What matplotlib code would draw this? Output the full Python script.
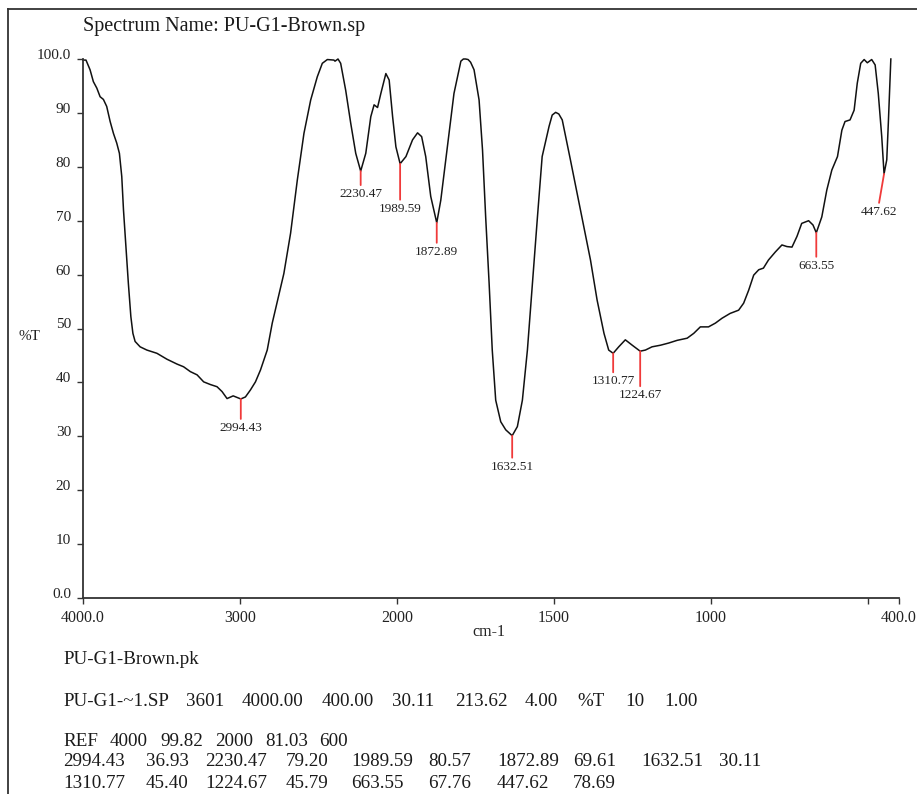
import numpy as np
import matplotlib
matplotlib.use('Agg')
import matplotlib.pyplot as plt
from matplotlib.lines import Line2D

# ---------------- data ----------------
wavenumber = [4000, 3981, 3955, 3934, 3912, 3891, 3870, 3849, 3827, 3806, 3785, 3768,
              3753, 3742, 3725, 3711, 3695, 3682, 3668, 3636, 3593, 3529, 3465, 3401,
              3359, 3316, 3273, 3231, 3188, 3146, 3114, 3082, 3043, 3018, 2994.43, 2965,
              2933, 2901, 2869, 2826, 2794, 2720, 2677, 2634, 2592, 2549, 2507, 2475,
              2443, 2401, 2394, 2375, 2358, 2326, 2294, 2262, 2230.47, 2198, 2166, 2145,
              2123, 2102, 2070, 2049, 2027, 2006, 1989.59, 1971, 1950, 1934, 1921, 1908,
              1892, 1872.89, 1860, 1839, 1818, 1796, 1788, 1781, 1773, 1765, 1754, 1738,
              1727, 1717, 1706, 1696, 1685, 1669, 1653, 1632.51, 1616, 1600, 1584, 1568,
              1552, 1537, 1515, 1505, 1494, 1484, 1473, 1447, 1415, 1383, 1362, 1340,
              1325, 1310.77, 1293, 1272, 1250, 1224.67, 1208, 1187, 1160, 1134, 1107, 1075,
              1054, 1033, 1007, 985, 964, 938, 911, 895, 879, 863, 847, 832,
              816, 794, 773, 757, 741, 725, 710, 688, 674, 663.55, 646, 630,
              614, 596, 582, 572, 556, 543, 533, 522, 511, 501, 487, 476,
              466, 455, 447.62, 439, 434, 426]
transmittance = [99.8, 99.8, 98.0, 95.8, 94.6, 93.0, 92.5, 91.2, 88.4, 86.2, 84.4, 82.5,
                 78.2, 72.0, 64.6, 58.4, 52.2, 49.1, 47.6, 46.6, 46.0, 45.4, 44.3, 43.4,
                 42.9, 42.0, 41.4, 40.1, 39.6, 39.2, 38.3, 37.0, 37.5, 37.2, 36.93, 37.3,
                 38.6, 40.1, 42.3, 46.0, 51.0, 60.2, 67.7, 77.6, 86.2, 92.4, 96.7, 99.2,
                 99.9, 99.8, 99.6, 100.0, 99.2, 94.2, 88.1, 82.5, 79.20, 82.5, 89.3, 91.5,
                 91.0, 93.6, 97.3, 96.1, 89.3, 83.7, 80.57, 81.9, 85.0, 86.3, 85.6, 81.9,
                 74.5, 69.61, 73.8, 83.7, 93.6, 99.6, 100.0, 100.0, 99.9, 99.4, 98.0, 92.4,
                 83.1, 70.7, 58.4, 46.0, 36.7, 32.7, 31.2, 30.11, 31.8, 36.7, 46.0, 58.4,
                 70.7, 81.9, 87.5, 89.6, 90.1, 89.8, 88.7, 81.3, 72.0, 62.7, 55.3, 49.1,
                 46.0, 45.40, 46.6, 47.9, 46.9, 45.79, 46.0, 46.6, 46.9, 47.3, 47.8, 48.2,
                 49.1, 50.3, 50.3, 51.0, 51.9, 52.8, 53.4, 54.7, 57.1, 59.9, 60.9, 61.2,
                 62.7, 64.2, 65.5, 65.2, 65.1, 67.1, 69.5, 70.0, 69.2, 67.76, 70.7, 75.7,
                 79.4, 81.9, 86.8, 88.4, 88.7, 90.5, 95.5, 99.2, 99.9, 99.3, 99.9, 98.9,
                 93.6, 85.6, 78.69, 81.3, 88.1, 100.0]

peak_wn = [2994.43, 2230.47, 1989.59, 1872.89, 1632.51, 1310.77, 1224.67, 663.55, 447.62]
peak_t = [36.93, 79.20, 80.57, 69.61, 30.11, 45.40, 45.79, 67.76, 78.69]

x_ticks = [4000, 3000, 2000, 1500, 1000, 500, 400]
x_tick_labels = ['4000.0', '3000', '2000', '1500', '1000', '', '400.0']
y_ticks = [0, 10, 20, 30, 40, 50, 60, 70, 80, 90, 100]
y_tick_labels = ['0.0', '10', '20', '30', '40', '50', '60', '70', '80', '90', '100.0']

title_text = 'Spectrum Name: PU-G1-Brown.sp'
x_label = 'cm-1'
y_label = '%T'
file_name = 'PU-G1-Brown.pk'
header_tokens = ['PU-G1-~1.SP', '3601', '4000.00', '400.00', '30.11', '213.62',
                 '4.00', '%T', '10', '1.00']
ref_tokens = ['REF', '4000', '99.82', '2000', '81.03', '600']

# ---------------- layout / style ----------------
W, H = 917, 794
SERIF = ['Liberation Serif', 'DejaVu Serif']
RED = '#f03a3a'
label_drop_px = [20, 14, 36, 20, 22, 19, 35, 24, 29]
label_dx_px = [0, 0, 0, 0, 0, 0, 0, 0, -5]
header_x_px = [63, 186, 242, 322, 392, 455, 525, 577, 625, 664]
ref_x_px = [63, 110, 160, 215, 265, 319]
table_col_x_px = [63, 146, 205, 286, 351, 428, 497, 573, 641, 719]
line_y_px = [659, 701, 741, 762, 783]
BODY_FS = 13.7

plt.rcParams['font.family'] = SERIF

fig = plt.figure(figsize=(W / 100, H / 100), dpi=100)
ax = fig.add_axes([83 / W, 1 - 598 / H, (899 - 83) / W, (598 - 59) / H])


def fwd(x):
    x = np.asarray(x, dtype=float)
    return np.where(x >= 2000, x, 2 * x - 2000)


def inv(y):
    y = np.asarray(y, dtype=float)
    return np.where(y >= 2000, y, (y + 2000) / 2)


ax.set_xscale('function', functions=(fwd, inv))
ax.plot(wavenumber, transmittance, color='#111111', lw=1.1, clip_on=False,
        solid_joinstyle='round')
ax.set_xlim(4000, 400)
ax.set_ylim(0, 100)

ax.set_xticks(x_ticks)
ax.set_xticklabels(x_tick_labels)
ax.set_yticks(y_ticks)
ax.set_yticklabels(y_tick_labels)
ax.minorticks_off()

for s in ['top', 'right']:
    ax.spines[s].set_visible(False)
for s in ['left', 'bottom']:
    ax.spines[s].set_color('#333333')
    ax.spines[s].set_linewidth(1.3)

ax.tick_params(axis='both', direction='out', length=4.3, width=1.0, color='#333333',
               pad=4.3, labelcolor='#222222')
ax.tick_params(axis='x', labelsize=11.5)
ax.tick_params(axis='y', labelsize=11)
for lab in ax.get_yticklabels():
    lab.set_va('baseline')

ax.set_xlabel(x_label, fontsize=11.5, color='#222222', va='center')
ax.xaxis.set_label_coords((489 - 83) / (899 - 83), (598 - 632) / (598 - 59))
ax.set_ylabel(y_label, fontsize=11, color='#222222', rotation=0, ha='center', va='center')
ax.yaxis.set_label_coords((29 - 83) / (899 - 83), (598 - 336) / (598 - 59))

# peak markers
for wn, t, drop, dx in zip(peak_wn, peak_t, label_drop_px, label_dx_px):
    ax.annotate('', xy=(wn, t), xytext=(dx * 0.72, -drop * 0.72),
                textcoords='offset points',
                arrowprops=dict(arrowstyle='-', color=RED, lw=1.3,
                                shrinkA=0, shrinkB=0), annotation_clip=False)
    ax.annotate(f'{wn:.2f}', xy=(wn, t), xytext=(dx * 0.72, -(drop + 3) * 0.72),
                textcoords='offset points', ha='center', va='top',
                fontsize=9.5, color='#222222', annotation_clip=False)


def ftext(x, y, s, **kw):
    fig.text(x / W, 1 - y / H, s, va='center', ha='left', color='#1a1a1a', **kw)


ftext(83, 26, title_text, fontsize=14.5)
ftext(63, line_y_px[0], file_name, fontsize=BODY_FS)
for x, tok in zip(header_x_px, header_tokens):
    ftext(x, line_y_px[1], tok, fontsize=BODY_FS)
for x, tok in zip(ref_x_px, ref_tokens):
    ftext(x, line_y_px[2], tok, fontsize=BODY_FS)

row1 = []
for wn, t in zip(peak_wn[:5], peak_t[:5]):
    row1 += [f'{wn:.2f}', f'{t:.2f}']
row2 = []
for wn, t in zip(peak_wn[5:], peak_t[5:]):
    row2 += [f'{wn:.2f}', f'{t:.2f}']
for x, tok in zip(table_col_x_px, row1):
    ftext(x, line_y_px[3], tok, fontsize=BODY_FS)
for x, tok in zip(table_col_x_px, row2):
    ftext(x, line_y_px[4], tok, fontsize=BODY_FS)

# outer frame
fig.add_artist(Line2D([8 / W, 1.0], [1 - 9 / H, 1 - 9 / H], transform=fig.transFigure,
                      color='#333333', lw=1.3))
fig.add_artist(Line2D([8 / W, 8 / W], [0, 1 - 9 / H], transform=fig.transFigure,
                      color='#333333', lw=1.3))

fig.savefig('out.png', dpi=100)
